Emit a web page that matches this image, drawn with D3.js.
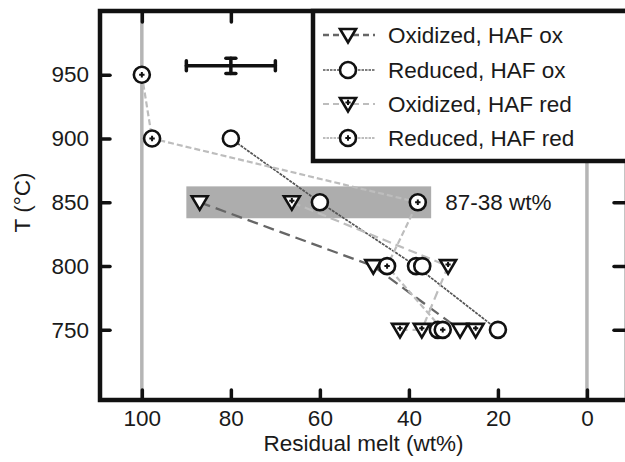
<!DOCTYPE html>
<html>
<head>
<meta charset="utf-8">
<script src="https://cdn.jsdelivr.net/npm/d3@7"></script>
<style>
  html, body { margin: 0; padding: 0; background: #fff; }
  svg { display: block; font-family: "Liberation Sans", Arial, Helvetica, sans-serif; }
</style>
</head>
<body>
<svg id="chart" width="625" height="462"></svg>
<script>
// Temperature (°C) and residual melt (wt%) tick values
const tempTicks = [750, 800, 850, 900, 950];
const meltTicks = [100, 80, 60, 40, 20, 0];

// Each point: [residual melt wt%, temperature °C]; connected in order
const oxidizedHafOx = [[87, 850], [48, 800], [28.5, 750]];
const reducedHafOx = [[80, 900], [60, 850], [38.4, 800], [20, 750]];
const reducedHafOxRepeat = [[37, 800], [33.5, 750]];
const oxidizedHafRed = [[66.3, 850], [31.2, 800], [37.1, 750], [42, 750]];
const oxidizedHafRedRepeat = [[25, 750]];
const reducedHafRed = [[100, 950], [97.7, 900], [38, 850], [44.9, 800], [32.4, 750]];

// Typical uncertainty: melt ± 10 wt%, T ± 6 °C
const errorBarPoint = [80, 957];
const errorBarMelt = 10;
const errorBarTemp = 6;

// Melt range spanned at 850 °C
const bandTemp = 850;
const bandMeltRange = [87, 38];

// Reference lines (100 % and 0 % melt)
const referenceMelt = [100, 0];

const legendLabels = ["Oxidized, HAF ox", "Reduced, HAF ox", "Oxidized, HAF red", "Reduced, HAF red"];

// ---------------------------------------------------------------
const svg = d3.select("#chart");
const frame = { left: 100, right: 627, top: 11, bottom: 400 };

const x = d3.scaleLinear().domain([109.4, -9.0]).range([frame.left, frame.right]);
const y = d3.scaleLinear().domain([695, 1000]).range([frame.bottom, frame.top]);

const INK = "#111";
const DARK = "#666";
const LIGHT = "#bdbdbd";
const FONT = 22.5;

const styles = {
  oxOx:   { stroke: DARK,  width: 2.3, dash: "11,6", legendDash: "6,4", marker: "tri" },
  redOx:  { stroke: "#555", width: 1.7, dash: "3,1", legendDash: "2.5,1", marker: "circle" },
  oxRed:  { stroke: LIGHT, width: 2.2, dash: "9,5", legendDash: "6,4", marker: "triPlus" },
  redRed: { stroke: LIGHT, width: 2.2, dash: "6,3", legendDash: "2.5,1", marker: "circlePlus" }
};

// Reference verticals
svg.append("g").selectAll("line").data(referenceMelt).join("line")
  .attr("x1", d => x(d)).attr("x2", d => x(d))
  .attr("y1", frame.top).attr("y2", frame.bottom)
  .attr("stroke", "#b5b5b5").attr("stroke-width", 3.5);

// Shaded band at 850 °C
const bandPadMelt = 3, bandPadTemp = 12.5;
svg.append("rect")
  .attr("x", x(bandMeltRange[0] + bandPadMelt))
  .attr("y", y(bandTemp + bandPadTemp))
  .attr("width", x(bandMeltRange[1] - bandPadMelt) - x(bandMeltRange[0] + bandPadMelt))
  .attr("height", y(bandTemp - bandPadTemp) - y(bandTemp + bandPadTemp))
  .attr("fill", "#adadad");
svg.append("text")
  .attr("x", x(bandMeltRange[1] - bandPadMelt) + 14)
  .attr("y", y(bandTemp))
  .attr("dy", "0.35em")
  .attr("font-size", FONT)
  .attr("fill", "#1a1a1a")
  .text(`${bandMeltRange[0]}-${bandMeltRange[1]} wt%`);

// Series lines
const line = d3.line().x(d => x(d[0])).y(d => y(d[1]));
const series = [
  { data: oxidizedHafOx, extra: [], s: styles.oxOx },
  { data: reducedHafOx, extra: reducedHafOxRepeat, s: styles.redOx },
  { data: oxidizedHafRed, extra: oxidizedHafRedRepeat, s: styles.oxRed },
  { data: reducedHafRed, extra: [], s: styles.redRed }
];
const lineLayer = svg.append("g");
series.forEach(sr => {
  lineLayer.append("path")
    .attr("d", line(sr.data))
    .attr("fill", "none")
    .attr("stroke", sr.s.stroke)
    .attr("stroke-width", sr.s.width)
    .attr("stroke-dasharray", sr.s.dash);
});

// Error bar
const eb = svg.append("g").attr("stroke", INK).attr("stroke-width", 3.5).attr("stroke-linecap", "round");
const ex = x(errorBarPoint[0]), ey = y(errorBarPoint[1]);
eb.append("line").attr("x1", x(errorBarPoint[0] + errorBarMelt)).attr("x2", x(errorBarPoint[0] - errorBarMelt)).attr("y1", ey).attr("y2", ey);
[errorBarPoint[0] + errorBarMelt, errorBarPoint[0] - errorBarMelt].forEach(v => {
  eb.append("line").attr("x1", x(v)).attr("x2", x(v)).attr("y1", ey - 5).attr("y2", ey + 5);
});
eb.append("line").attr("x1", ex).attr("x2", ex).attr("y1", y(errorBarPoint[1] + errorBarTemp)).attr("y2", y(errorBarPoint[1] - errorBarTemp));
[errorBarPoint[1] + errorBarTemp, errorBarPoint[1] - errorBarTemp].forEach(v => {
  eb.append("line").attr("x1", ex - 5).attr("x2", ex + 5).attr("y1", y(v)).attr("y2", y(v));
});

// Markers
function drawMarker(g, kind, cx, cy) {
  const m = g.append("g").attr("transform", `translate(${cx},${cy})`);
  if (kind === "tri" || kind === "triPlus") {
    m.append("path").attr("d", "M-8,-6L8,-6L0,7.5Z")
      .attr("fill", "#fff").attr("stroke", INK).attr("stroke-width", 2.6).attr("stroke-linejoin", "miter");
    if (kind === "triPlus") {
      m.append("path").attr("d", "M-2.6,-1.6H2.6M0,-4.2V1")
        .attr("stroke", INK).attr("stroke-width", 2);
    }
  } else {
    m.append("circle").attr("r", 8)
      .attr("fill", "#fff").attr("stroke", INK).attr("stroke-width", 2.6);
    if (kind === "circlePlus") {
      m.append("path").attr("d", "M-2.7,0H2.7M0,-2.7V2.7")
        .attr("stroke", INK).attr("stroke-width", 2);
    }
  }
}
const markerLayer = svg.append("g");
series.forEach(sr => {
  sr.data.concat(sr.extra).forEach(d => drawMarker(markerLayer, sr.s.marker, x(d[0]), y(d[1])));
});

// Axes: ticks point inward on all four sides
const tickStyle = g => {
  g.select(".domain").remove();
  g.selectAll(".tick line").attr("stroke", INK).attr("stroke-width", 3.5).attr("stroke-linecap", "round");
  g.selectAll(".tick text").attr("fill", "#1a1a1a").attr("font-size", FONT);
};
svg.append("g").attr("transform", `translate(${frame.left},0)`)
  .call(d3.axisLeft(y).tickValues(tempTicks).tickSize(-10).tickPadding(11).tickFormat(d3.format("d")))
  .call(tickStyle).attr("font-family", null);
svg.append("g").attr("transform", `translate(0,${frame.bottom})`)
  .call(d3.axisBottom(x).tickValues(meltTicks).tickSize(-10).tickPadding(10).tickFormat(d3.format("d")))
  .call(tickStyle).attr("font-family", null);
svg.append("g").attr("transform", `translate(0,${frame.top})`)
  .call(d3.axisTop(x).tickValues(meltTicks).tickSize(-11).tickFormat(""))
  .call(tickStyle);
svg.append("g").attr("transform", `translate(${frame.right},0)`)
  .call(d3.axisRight(y).tickValues(tempTicks).tickSize(-13).tickFormat(""))
  .call(tickStyle);

// Frame
svg.append("rect")
  .attr("x", frame.left).attr("y", frame.top)
  .attr("width", frame.right - frame.left).attr("height", frame.bottom - frame.top)
  .attr("fill", "none").attr("stroke", INK).attr("stroke-width", 4.5);

// Axis titles
svg.append("text")
  .attr("x", (frame.left + frame.right) / 2).attr("y", 451)
  .attr("text-anchor", "middle").attr("font-size", FONT).attr("fill", "#1a1a1a")
  .text("Residual melt (wt%)");
svg.append("text")
  .attr("transform", `translate(30,${(frame.top + frame.bottom) / 2 - 3}) rotate(-90)`)
  .attr("text-anchor", "middle").attr("font-size", FONT).attr("fill", "#1a1a1a")
  .text("T (°C)");

// Legend
const legend = svg.append("g");
legend.append("rect")
  .attr("x", 313).attr("y", frame.top).attr("width", 330).attr("height", 150)
  .attr("fill", "#fff").attr("stroke", INK).attr("stroke-width", 4.5);
const legendRows = [35, 70, 104, 138];
series.forEach((sr, i) => {
  const ly = legendRows[i];
  legend.append("line").attr("x1", 323).attr("x2", 375).attr("y1", ly).attr("y2", ly)
    .attr("stroke", sr.s.stroke).attr("stroke-width", sr.s.width).attr("stroke-dasharray", sr.s.legendDash);
  drawMarker(legend, sr.s.marker, 348, ly);
  legend.append("text").attr("x", 388).attr("y", ly).attr("dy", "0.35em")
    .attr("font-size", FONT).attr("fill", "#1a1a1a").text(legendLabels[i]);
});
</script>
</body>
</html>
